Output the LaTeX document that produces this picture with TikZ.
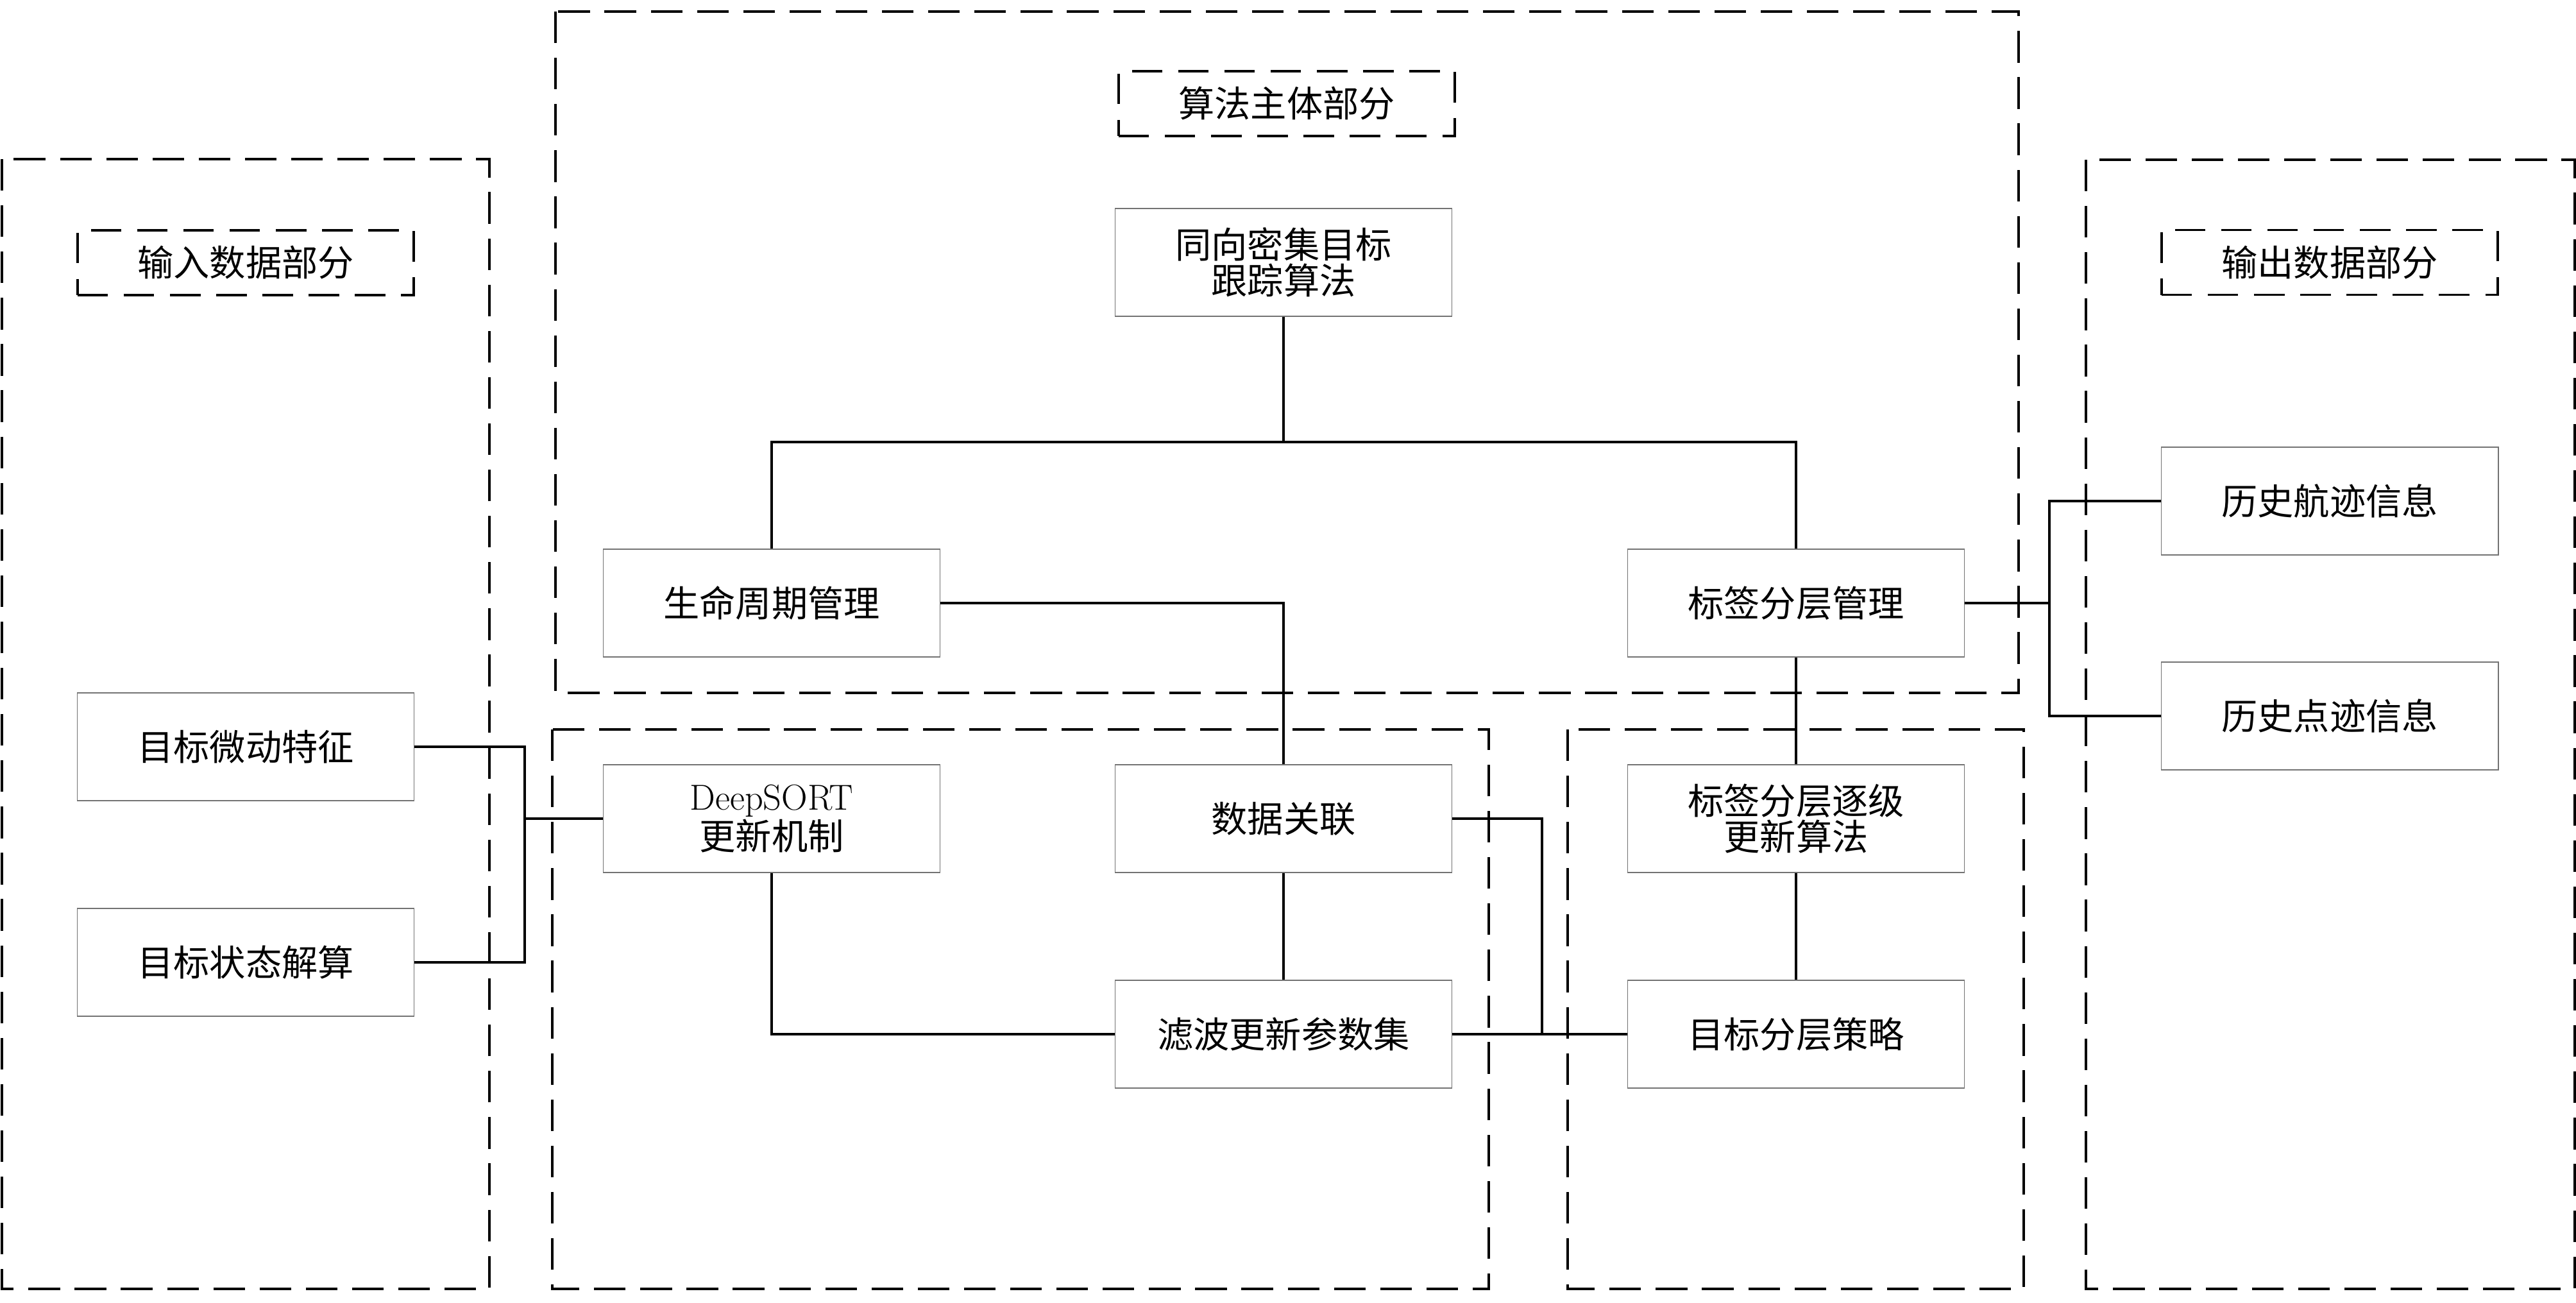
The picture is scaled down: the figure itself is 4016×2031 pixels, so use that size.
\documentclass[tikz,border=0pt]{standalone}
\usepackage{fontspec}
\newfontfamily\cjk{Noto Sans CJK SC}
\begin{document}
\begin{tikzpicture}[x=0.01cm,y=-0.01cm,
  region/.style={draw=black,line width=1.05pt,dash pattern=on 14pt off 6.5pt},
  tag/.style={draw=black,line width=1.05pt,dash pattern=on 13.5pt off 7pt,minimum width=5.24cm,minimum height=1.01cm,inner sep=0pt,font=\cjk\fontsize{16pt}{16pt}\selectfont},
  box/.style={draw=black!55,line width=0.45pt,fill=white,minimum width=5.25cm,minimum height=1.68cm,inner sep=0pt,align=center,font=\cjk\fontsize{16pt}{16pt}\selectfont},
  link/.style={draw=black,line width=1pt}]
\useasboundingbox (0,0) rectangle (4016,2031);
% region frames
\draw[region] (3,248) rectangle (763,2009);
\draw[region] (866,18) rectangle (3147,1080);
\draw[region] (861,1137) rectangle (2321,2009);
\draw[region] (2444,1137) rectangle (3155,2009);
\draw[region] (3252,249) rectangle (4014,2009);
% region titles
\node[tag] (tin) at (383,409.5) {输入数据部分};
\node[tag] (talg) at (2006,161.5) {算法主体部分};
\node[tag] (tout) at (3632,409) {输出数据部分};
% boxes
\node[box] (top) at (2001,409) {同向密集目标\\跟踪算法};
\node[box] (life) at (1203,940) {生命周期管理};
\node[box] (lmg) at (2800,940) {标签分层管理};
\node[box] (htr) at (3632,781) {历史航迹信息};
\node[box] (hpt) at (3632,1116) {历史点迹信息};
\node[box] (micro) at (383,1164) {目标微动特征};
\node[box] (state) at (383,1500) {目标状态解算};
\node[box] (deep) at (1203,1276) {{\rmfamily DeepSORT}\\更新机制};
\node[box] (assoc) at (2001,1276) {数据关联};
\node[box] (filt) at (2001,1612) {滤波更新参数集};
\node[box] (lupd) at (2800,1276) {标签分层逐级\\更新算法};
\node[box] (strat) at (2800,1612) {目标分层策略};
% junctions
\coordinate (jtop) at (2001,689);
\coordinate (jout) at (3195,940);
\coordinate (jin) at (818,1276);
\coordinate (jas) at (2404,1612);
% connectors
\draw[link] (top.south) -- (jtop);
\draw[link] (life.north) -- (life.north |- jtop) -- (lmg.north |- jtop) -- (lmg.north);
\draw[link] (life.east) -| (assoc.north);
\draw[link] (lmg.south) -- (lupd.north);
\draw[link] (lupd.south) -- (strat.north);
\draw[link] (lmg.east) -- (jout);
\draw[link] (htr.west) -| (jout);
\draw[link] (hpt.west) -| (jout);
\draw[link] (micro.east) -| (jin);
\draw[link] (state.east) -| (jin);
\draw[link] (jin) -- (deep.west);
\draw[link] (deep.south) |- (filt.west);
\draw[link] (assoc.south) -- (filt.north);
\draw[link] (assoc.east) -| (jas);
\draw[link] (filt.east) -- (strat.west);
\end{tikzpicture}
\end{document}
